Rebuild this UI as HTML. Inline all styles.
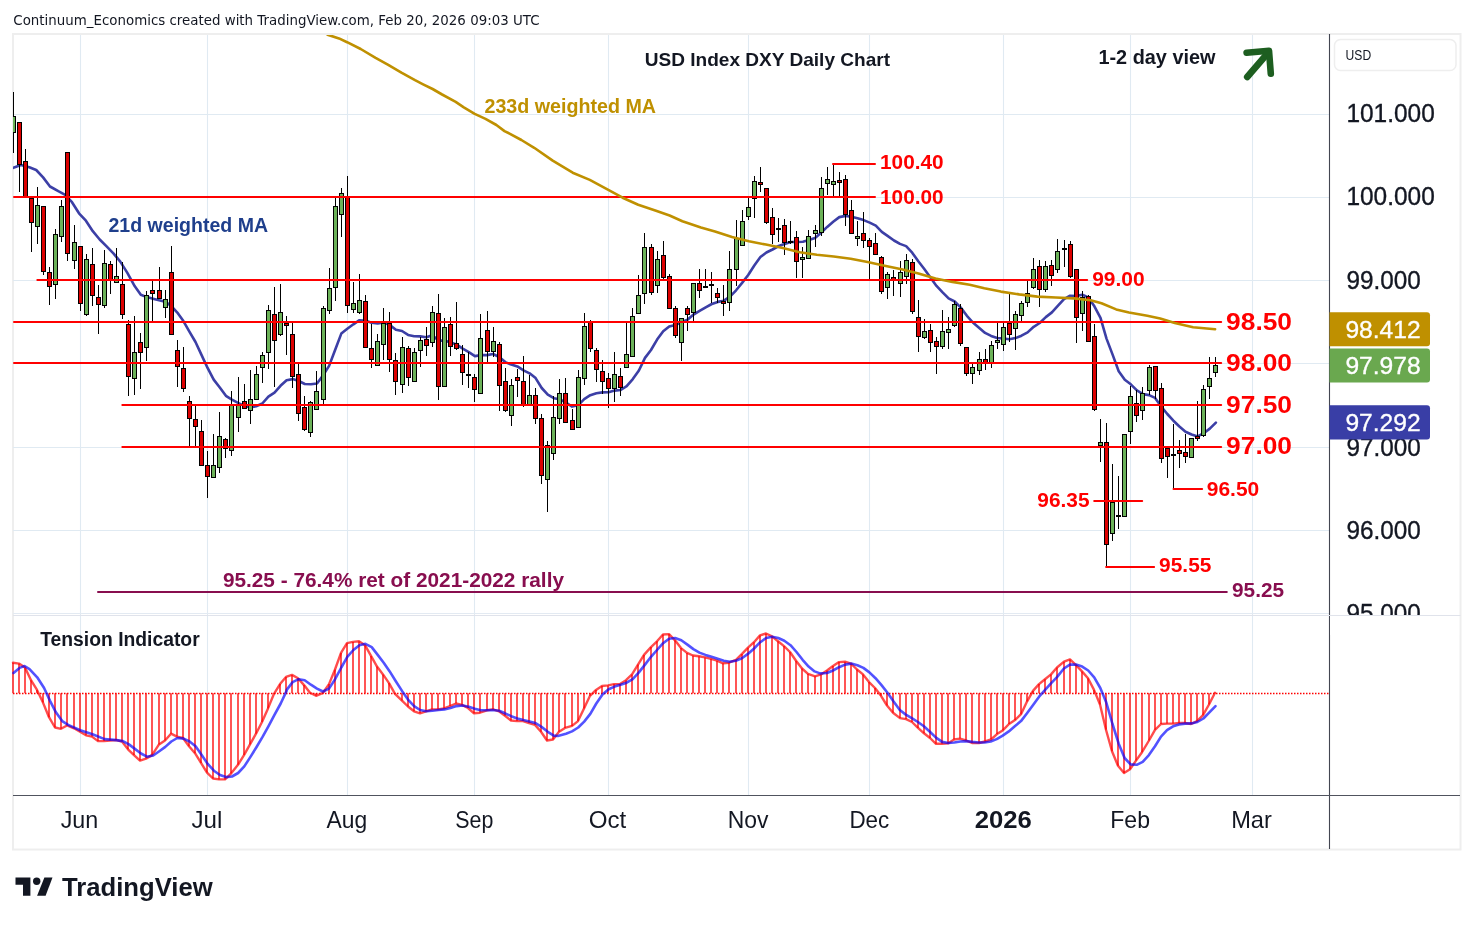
<!DOCTYPE html>
<html><head><meta charset="utf-8"><title>USD Index DXY Daily Chart</title>
<style>html,body{margin:0;padding:0;background:#fff;}body{width:1474px;height:925px;overflow:hidden;}svg{display:block;will-change:transform;}</style>
</head><body>
<svg width="1474" height="925" viewBox="0 0 1474 925"><rect x="0" y="0" width="1474" height="925" fill="#ffffff"/>
<rect x="13" y="34" width="1447.5" height="815.5" fill="none" stroke="#eeeeee" stroke-width="2"/>
<line x1="80.5" y1="35" x2="80.5" y2="795" stroke="#e0eaf2" stroke-width="1.1"/>
<line x1="207.5" y1="35" x2="207.5" y2="795" stroke="#e0eaf2" stroke-width="1.1"/>
<line x1="347.5" y1="35" x2="347.5" y2="795" stroke="#e0eaf2" stroke-width="1.1"/>
<line x1="474.5" y1="35" x2="474.5" y2="795" stroke="#e0eaf2" stroke-width="1.1"/>
<line x1="608.5" y1="35" x2="608.5" y2="795" stroke="#e0eaf2" stroke-width="1.1"/>
<line x1="748.5" y1="35" x2="748.5" y2="795" stroke="#e0eaf2" stroke-width="1.1"/>
<line x1="869.5" y1="35" x2="869.5" y2="795" stroke="#e0eaf2" stroke-width="1.1"/>
<line x1="1003.5" y1="35" x2="1003.5" y2="795" stroke="#e0eaf2" stroke-width="1.1"/>
<line x1="1130.5" y1="35" x2="1130.5" y2="795" stroke="#e0eaf2" stroke-width="1.1"/>
<line x1="1252.5" y1="35" x2="1252.5" y2="795" stroke="#e0eaf2" stroke-width="1.1"/>
<line x1="13" y1="114.5" x2="1329" y2="114.5" stroke="#e0eaf2" stroke-width="1.1"/>
<line x1="13" y1="197.5" x2="1329" y2="197.5" stroke="#e0eaf2" stroke-width="1.1"/>
<line x1="13" y1="280.5" x2="1329" y2="280.5" stroke="#e0eaf2" stroke-width="1.1"/>
<line x1="13" y1="363.5" x2="1329" y2="363.5" stroke="#e0eaf2" stroke-width="1.1"/>
<line x1="13" y1="447.5" x2="1329" y2="447.5" stroke="#e0eaf2" stroke-width="1.1"/>
<line x1="13" y1="530.5" x2="1329" y2="530.5" stroke="#e0eaf2" stroke-width="1.1"/>
<line x1="13" y1="613.5" x2="1329" y2="613.5" stroke="#e3eaf2" stroke-width="1"/>
<clipPath id="mainclip"><rect x="13" y="35" width="1316" height="578"/></clipPath>
<g clip-path="url(#mainclip)">
<polyline points="13.3,167.8 21.0,165.0 29.3,167.2 36.2,170.0 43.1,177.4 50.0,186.5 58.3,191.2 65.2,194.8 72.0,202.2 79.0,213.3 85.9,220.7 92.8,231.2 99.7,239.5 106.6,246.4 113.4,253.3 120.3,261.6 127.2,272.6 134.8,286.3 140.8,294.8 146.9,297.1 153.0,298.7 159.1,300.3 165.1,301.7 171.2,305.8 177.3,312.6 183.4,321.1 189.4,331.6 195.5,342.0 201.6,355.1 207.7,368.2 213.7,379.6 219.8,387.5 225.9,395.8 231.9,399.6 238.0,402.8 244.1,405.8 250.2,407.3 256.2,406.3 262.3,403.5 268.4,396.6 274.5,392.6 280.5,385.8 286.6,380.2 292.7,379.1 298.8,381.0 304.8,384.0 310.9,384.3 317.0,383.5 323.1,375.4 329.1,365.9 335.2,349.8 341.3,333.6 347.3,328.8 353.4,324.3 359.5,320.2 365.6,320.8 371.6,322.8 377.7,323.4 383.8,322.5 389.9,325.1 395.9,329.7 402.0,331.0 408.1,334.9 414.2,336.2 420.2,336.4 426.3,337.2 432.4,335.2 438.5,340.6 444.5,340.6 450.6,342.6 456.7,344.6 462.7,348.6 468.8,352.1 474.9,356.1 481.0,355.1 487.0,355.1 493.1,354.0 499.2,357.0 505.3,362.1 511.3,364.6 517.4,366.4 523.5,370.3 529.6,373.3 535.6,378.1 541.7,388.0 547.8,394.6 553.9,398.2 559.9,399.3 566.0,402.7 572.1,406.6 578.1,405.3 584.2,399.2 590.3,395.2 596.4,393.3 602.4,392.4 608.5,392.2 614.6,390.6 620.7,390.0 626.7,386.2 632.8,379.1 638.9,370.5 645.0,357.9 651.0,350.0 657.1,339.6 663.2,331.3 669.2,326.6 675.3,325.0 681.4,322.3 687.5,319.7 693.5,314.6 699.6,310.8 705.7,307.3 711.8,304.0 717.8,301.9 723.9,300.7 730.0,296.6 736.1,290.3 742.1,282.9 748.2,275.0 754.3,265.5 760.4,257.0 766.4,252.5 772.5,249.5 778.6,246.0 784.6,244.0 790.7,242.0 796.8,242.0 802.9,241.8 808.9,240.1 815.0,238.1 821.1,232.7 827.2,226.9 833.2,221.8 839.3,217.1 845.4,215.9 851.5,216.8 857.5,218.2 863.6,220.1 869.7,222.6 875.8,225.6 881.8,231.9 887.9,236.1 894.0,240.5 900.0,243.9 906.1,246.1 912.2,252.7 918.3,261.3 924.3,269.0 930.4,277.4 936.5,285.9 942.6,292.4 948.6,298.4 954.7,301.5 960.8,307.6 966.9,315.8 972.9,322.5 979.0,327.8 985.1,332.9 991.1,335.9 997.2,338.0 1003.3,338.5 1009.4,339.3 1015.4,338.1 1021.5,335.7 1027.6,332.4 1033.7,326.8 1039.7,323.0 1045.8,317.1 1051.9,312.4 1058.0,305.7 1064.0,299.2 1070.1,295.7 1076.2,296.0 1082.3,294.7 1088.3,297.4 1094.4,306.3 1100.5,317.9 1106.5,338.6 1112.6,354.6 1118.7,371.2 1124.8,379.7 1130.8,384.3 1136.9,390.4 1143.0,394.1 1149.1,395.1 1155.1,397.9 1161.2,406.5 1167.3,414.0 1173.4,420.7 1179.4,426.5 1185.5,431.7 1191.6,434.5 1197.7,436.4 1203.7,433.2 1209.8,428.6 1215.9,422.6" fill="none" stroke="#3c3fa6" stroke-width="2.6" stroke-linejoin="round" stroke-linecap="round" />
<line x1="13.50" y1="92" x2="13.50" y2="153" stroke="#000" stroke-width="1"/>
<rect x="11.50" y="116.5" width="4" height="16.0" fill="#6cb259" stroke="#000" stroke-width="1"/>
<line x1="19.50" y1="122" x2="19.50" y2="192" stroke="#000" stroke-width="1"/>
<rect x="17.50" y="122.5" width="4" height="42.0" fill="#dc0000" stroke="#000" stroke-width="1"/>
<line x1="25.50" y1="149" x2="25.50" y2="197" stroke="#000" stroke-width="1"/>
<rect x="23.50" y="161.5" width="4" height="35.0" fill="#dc0000" stroke="#000" stroke-width="1"/>
<line x1="31.50" y1="198" x2="31.50" y2="252" stroke="#000" stroke-width="1"/>
<rect x="29.50" y="198.5" width="4" height="24.0" fill="#dc0000" stroke="#000" stroke-width="1"/>
<line x1="37.50" y1="187" x2="37.50" y2="244" stroke="#000" stroke-width="1"/>
<rect x="35.50" y="205.5" width="4" height="21.0" fill="#6cb259" stroke="#000" stroke-width="1"/>
<line x1="43.50" y1="207" x2="43.50" y2="275" stroke="#000" stroke-width="1"/>
<rect x="41.50" y="206.5" width="4" height="65.0" fill="#dc0000" stroke="#000" stroke-width="1"/>
<line x1="49.50" y1="267" x2="49.50" y2="305" stroke="#000" stroke-width="1"/>
<rect x="47.50" y="272.5" width="4" height="14.0" fill="#dc0000" stroke="#000" stroke-width="1"/>
<line x1="55.50" y1="229" x2="55.50" y2="299" stroke="#000" stroke-width="1"/>
<rect x="53.50" y="234.5" width="4" height="50.0" fill="#6cb259" stroke="#000" stroke-width="1"/>
<line x1="61.50" y1="200" x2="61.50" y2="242" stroke="#000" stroke-width="1"/>
<rect x="59.50" y="206.5" width="4" height="30.0" fill="#6cb259" stroke="#000" stroke-width="1"/>
<line x1="67.50" y1="152" x2="67.50" y2="261" stroke="#000" stroke-width="1"/>
<rect x="65.50" y="152.5" width="4" height="101.0" fill="#dc0000" stroke="#000" stroke-width="1"/>
<line x1="74.50" y1="225" x2="74.50" y2="269" stroke="#000" stroke-width="1"/>
<rect x="72.50" y="242.5" width="4" height="18.0" fill="#6cb259" stroke="#000" stroke-width="1"/>
<line x1="80.50" y1="246" x2="80.50" y2="311" stroke="#000" stroke-width="1"/>
<rect x="78.50" y="246.5" width="4" height="57.0" fill="#dc0000" stroke="#000" stroke-width="1"/>
<line x1="86.50" y1="254" x2="86.50" y2="316" stroke="#000" stroke-width="1"/>
<rect x="84.50" y="259.5" width="4" height="55.0" fill="#6cb259" stroke="#000" stroke-width="1"/>
<line x1="92.50" y1="248" x2="92.50" y2="306" stroke="#000" stroke-width="1"/>
<rect x="90.50" y="264.5" width="4" height="31.0" fill="#dc0000" stroke="#000" stroke-width="1"/>
<line x1="98.50" y1="285" x2="98.50" y2="334" stroke="#000" stroke-width="1"/>
<rect x="96.50" y="297.5" width="4" height="7.0" fill="#dc0000" stroke="#000" stroke-width="1"/>
<line x1="104.50" y1="250" x2="104.50" y2="308" stroke="#000" stroke-width="1"/>
<rect x="102.50" y="263.5" width="4" height="42.0" fill="#6cb259" stroke="#000" stroke-width="1"/>
<line x1="110.50" y1="261" x2="110.50" y2="294" stroke="#000" stroke-width="1"/>
<rect x="108.50" y="264.5" width="4" height="16.0" fill="#dc0000" stroke="#000" stroke-width="1"/>
<line x1="116.50" y1="248" x2="116.50" y2="283" stroke="#000" stroke-width="1"/>
<rect x="114.50" y="276.5" width="4" height="6.0" fill="#6cb259" stroke="#000" stroke-width="1"/>
<line x1="122.50" y1="262" x2="122.50" y2="319" stroke="#000" stroke-width="1"/>
<rect x="120.50" y="284.5" width="4" height="30.0" fill="#dc0000" stroke="#000" stroke-width="1"/>
<line x1="128.50" y1="320" x2="128.50" y2="396" stroke="#000" stroke-width="1"/>
<rect x="126.50" y="324.5" width="4" height="52.0" fill="#dc0000" stroke="#000" stroke-width="1"/>
<line x1="134.50" y1="316" x2="134.50" y2="395" stroke="#000" stroke-width="1"/>
<rect x="132.50" y="352.5" width="4" height="26.0" fill="#6cb259" stroke="#000" stroke-width="1"/>
<line x1="140.50" y1="333" x2="140.50" y2="389" stroke="#000" stroke-width="1"/>
<rect x="138.50" y="342.5" width="4" height="10.0" fill="#dc0000" stroke="#000" stroke-width="1"/>
<line x1="146.50" y1="291" x2="146.50" y2="361" stroke="#000" stroke-width="1"/>
<rect x="144.50" y="295.5" width="4" height="52.0" fill="#6cb259" stroke="#000" stroke-width="1"/>
<line x1="152.50" y1="281" x2="152.50" y2="321" stroke="#000" stroke-width="1"/>
<rect x="150.50" y="290.5" width="4" height="3.0" fill="#dc0000" stroke="#000" stroke-width="1"/>
<line x1="159.50" y1="267" x2="159.50" y2="299" stroke="#000" stroke-width="1"/>
<rect x="157.50" y="290.5" width="4" height="8.0" fill="#dc0000" stroke="#000" stroke-width="1"/>
<line x1="165.50" y1="290" x2="165.50" y2="318" stroke="#000" stroke-width="1"/>
<rect x="163.50" y="299.5" width="4" height="8.0" fill="#6cb259" stroke="#000" stroke-width="1"/>
<line x1="171.50" y1="246" x2="171.50" y2="334" stroke="#000" stroke-width="1"/>
<rect x="169.50" y="272.5" width="4" height="62.0" fill="#dc0000" stroke="#000" stroke-width="1"/>
<line x1="177.50" y1="340" x2="177.50" y2="387" stroke="#000" stroke-width="1"/>
<rect x="175.50" y="350.5" width="4" height="16.0" fill="#dc0000" stroke="#000" stroke-width="1"/>
<line x1="183.50" y1="347" x2="183.50" y2="392" stroke="#000" stroke-width="1"/>
<rect x="181.50" y="368.5" width="4" height="20.0" fill="#dc0000" stroke="#000" stroke-width="1"/>
<line x1="189.50" y1="396" x2="189.50" y2="446" stroke="#000" stroke-width="1"/>
<rect x="187.50" y="401.5" width="4" height="17.0" fill="#dc0000" stroke="#000" stroke-width="1"/>
<line x1="195.50" y1="406" x2="195.50" y2="446" stroke="#000" stroke-width="1"/>
<rect x="193.50" y="419.5" width="4" height="7.0" fill="#dc0000" stroke="#000" stroke-width="1"/>
<line x1="201.50" y1="420" x2="201.50" y2="466" stroke="#000" stroke-width="1"/>
<rect x="199.50" y="431.5" width="4" height="34.0" fill="#dc0000" stroke="#000" stroke-width="1"/>
<line x1="207.50" y1="451" x2="207.50" y2="498" stroke="#000" stroke-width="1"/>
<rect x="205.50" y="465.5" width="4" height="11.0" fill="#dc0000" stroke="#000" stroke-width="1"/>
<line x1="213.50" y1="434" x2="213.50" y2="478" stroke="#000" stroke-width="1"/>
<rect x="211.50" y="465.5" width="4" height="12.0" fill="#6cb259" stroke="#000" stroke-width="1"/>
<line x1="219.50" y1="412" x2="219.50" y2="473" stroke="#000" stroke-width="1"/>
<rect x="217.50" y="436.5" width="4" height="31.0" fill="#6cb259" stroke="#000" stroke-width="1"/>
<line x1="225.50" y1="438" x2="225.50" y2="458" stroke="#000" stroke-width="1"/>
<rect x="223.50" y="439.5" width="4" height="9.0" fill="#dc0000" stroke="#000" stroke-width="1"/>
<line x1="231.50" y1="391" x2="231.50" y2="456" stroke="#000" stroke-width="1"/>
<rect x="229.50" y="404.5" width="4" height="46.0" fill="#6cb259" stroke="#000" stroke-width="1"/>
<line x1="238.50" y1="377" x2="238.50" y2="432" stroke="#000" stroke-width="1"/>
<rect x="236.50" y="405.5" width="4" height="12.0" fill="#6cb259" stroke="#000" stroke-width="1"/>
<line x1="244.50" y1="384" x2="244.50" y2="409" stroke="#000" stroke-width="1"/>
<rect x="242.50" y="401.5" width="4" height="7.0" fill="#dc0000" stroke="#000" stroke-width="1"/>
<line x1="250.50" y1="370" x2="250.50" y2="424" stroke="#000" stroke-width="1"/>
<rect x="248.50" y="399.5" width="4" height="11.0" fill="#6cb259" stroke="#000" stroke-width="1"/>
<line x1="256.50" y1="366" x2="256.50" y2="400" stroke="#000" stroke-width="1"/>
<rect x="254.50" y="374.5" width="4" height="25.0" fill="#6cb259" stroke="#000" stroke-width="1"/>
<line x1="262.50" y1="352" x2="262.50" y2="383" stroke="#000" stroke-width="1"/>
<rect x="260.50" y="355.5" width="4" height="12.0" fill="#6cb259" stroke="#000" stroke-width="1"/>
<line x1="268.50" y1="305" x2="268.50" y2="369" stroke="#000" stroke-width="1"/>
<rect x="266.50" y="310.5" width="4" height="42.0" fill="#6cb259" stroke="#000" stroke-width="1"/>
<line x1="274.50" y1="287" x2="274.50" y2="387" stroke="#000" stroke-width="1"/>
<rect x="272.50" y="314.5" width="4" height="26.0" fill="#dc0000" stroke="#000" stroke-width="1"/>
<line x1="280.50" y1="284" x2="280.50" y2="336" stroke="#000" stroke-width="1"/>
<rect x="278.50" y="312.5" width="4" height="22.0" fill="#6cb259" stroke="#000" stroke-width="1"/>
<line x1="286.50" y1="316" x2="286.50" y2="355" stroke="#000" stroke-width="1"/>
<rect x="284.50" y="323.5" width="4" height="2.0" fill="#dc0000" stroke="#000" stroke-width="1"/>
<line x1="292.50" y1="323" x2="292.50" y2="388" stroke="#000" stroke-width="1"/>
<rect x="290.50" y="334.5" width="4" height="42.0" fill="#dc0000" stroke="#000" stroke-width="1"/>
<line x1="298.50" y1="364" x2="298.50" y2="421" stroke="#000" stroke-width="1"/>
<rect x="296.50" y="374.5" width="4" height="39.0" fill="#dc0000" stroke="#000" stroke-width="1"/>
<line x1="304.50" y1="396" x2="304.50" y2="431" stroke="#000" stroke-width="1"/>
<rect x="302.50" y="407.5" width="4" height="22.0" fill="#dc0000" stroke="#000" stroke-width="1"/>
<line x1="310.50" y1="401" x2="310.50" y2="437" stroke="#000" stroke-width="1"/>
<rect x="308.50" y="402.5" width="4" height="30.0" fill="#6cb259" stroke="#000" stroke-width="1"/>
<line x1="316.50" y1="371" x2="316.50" y2="410" stroke="#000" stroke-width="1"/>
<rect x="314.50" y="391.5" width="4" height="18.0" fill="#6cb259" stroke="#000" stroke-width="1"/>
<line x1="323.50" y1="306" x2="323.50" y2="404" stroke="#000" stroke-width="1"/>
<rect x="321.50" y="308.5" width="4" height="91.0" fill="#6cb259" stroke="#000" stroke-width="1"/>
<line x1="329.50" y1="268" x2="329.50" y2="314" stroke="#000" stroke-width="1"/>
<rect x="327.50" y="288.5" width="4" height="22.0" fill="#6cb259" stroke="#000" stroke-width="1"/>
<line x1="335.50" y1="198" x2="335.50" y2="301" stroke="#000" stroke-width="1"/>
<rect x="333.50" y="206.5" width="4" height="81.0" fill="#6cb259" stroke="#000" stroke-width="1"/>
<line x1="341.50" y1="188" x2="341.50" y2="237" stroke="#000" stroke-width="1"/>
<rect x="339.50" y="193.5" width="4" height="21.0" fill="#6cb259" stroke="#000" stroke-width="1"/>
<line x1="347.50" y1="176" x2="347.50" y2="313" stroke="#000" stroke-width="1"/>
<rect x="345.50" y="196.5" width="4" height="109.0" fill="#dc0000" stroke="#000" stroke-width="1"/>
<line x1="353.50" y1="282" x2="353.50" y2="313" stroke="#000" stroke-width="1"/>
<rect x="351.50" y="303.5" width="4" height="6.0" fill="#6cb259" stroke="#000" stroke-width="1"/>
<line x1="359.50" y1="274" x2="359.50" y2="314" stroke="#000" stroke-width="1"/>
<rect x="357.50" y="300.5" width="4" height="12.0" fill="#6cb259" stroke="#000" stroke-width="1"/>
<line x1="365.50" y1="295" x2="365.50" y2="347" stroke="#000" stroke-width="1"/>
<rect x="363.50" y="301.5" width="4" height="46.0" fill="#dc0000" stroke="#000" stroke-width="1"/>
<line x1="371.50" y1="324" x2="371.50" y2="368" stroke="#000" stroke-width="1"/>
<rect x="369.50" y="348.5" width="4" height="11.0" fill="#dc0000" stroke="#000" stroke-width="1"/>
<line x1="377.50" y1="334" x2="377.50" y2="366" stroke="#000" stroke-width="1"/>
<rect x="375.50" y="341.5" width="4" height="24.0" fill="#6cb259" stroke="#000" stroke-width="1"/>
<line x1="383.50" y1="308" x2="383.50" y2="360" stroke="#000" stroke-width="1"/>
<rect x="381.50" y="323.5" width="4" height="21.0" fill="#6cb259" stroke="#000" stroke-width="1"/>
<line x1="389.50" y1="312" x2="389.50" y2="372" stroke="#000" stroke-width="1"/>
<rect x="387.50" y="323.5" width="4" height="36.0" fill="#dc0000" stroke="#000" stroke-width="1"/>
<line x1="395.50" y1="353" x2="395.50" y2="395" stroke="#000" stroke-width="1"/>
<rect x="393.50" y="360.5" width="4" height="21.0" fill="#dc0000" stroke="#000" stroke-width="1"/>
<line x1="402.50" y1="337" x2="402.50" y2="393" stroke="#000" stroke-width="1"/>
<rect x="400.50" y="347.5" width="4" height="37.0" fill="#6cb259" stroke="#000" stroke-width="1"/>
<line x1="408.50" y1="346" x2="408.50" y2="386" stroke="#000" stroke-width="1"/>
<rect x="406.50" y="348.5" width="4" height="29.0" fill="#dc0000" stroke="#000" stroke-width="1"/>
<line x1="414.50" y1="348" x2="414.50" y2="382" stroke="#000" stroke-width="1"/>
<rect x="412.50" y="352.5" width="4" height="29.0" fill="#6cb259" stroke="#000" stroke-width="1"/>
<line x1="420.50" y1="337" x2="420.50" y2="367" stroke="#000" stroke-width="1"/>
<rect x="418.50" y="340.5" width="4" height="10.0" fill="#6cb259" stroke="#000" stroke-width="1"/>
<line x1="426.50" y1="327" x2="426.50" y2="356" stroke="#000" stroke-width="1"/>
<rect x="424.50" y="339.5" width="4" height="6.0" fill="#dc0000" stroke="#000" stroke-width="1"/>
<line x1="432.50" y1="306" x2="432.50" y2="347" stroke="#000" stroke-width="1"/>
<rect x="430.50" y="312.5" width="4" height="30.0" fill="#6cb259" stroke="#000" stroke-width="1"/>
<line x1="438.50" y1="294" x2="438.50" y2="400" stroke="#000" stroke-width="1"/>
<rect x="436.50" y="313.5" width="4" height="73.0" fill="#dc0000" stroke="#000" stroke-width="1"/>
<line x1="444.50" y1="318" x2="444.50" y2="387" stroke="#000" stroke-width="1"/>
<rect x="442.50" y="327.5" width="4" height="59.0" fill="#6cb259" stroke="#000" stroke-width="1"/>
<line x1="450.50" y1="317" x2="450.50" y2="356" stroke="#000" stroke-width="1"/>
<rect x="448.50" y="324.5" width="4" height="22.0" fill="#dc0000" stroke="#000" stroke-width="1"/>
<line x1="456.50" y1="302" x2="456.50" y2="350" stroke="#000" stroke-width="1"/>
<rect x="454.50" y="343.5" width="4" height="5.0" fill="#dc0000" stroke="#000" stroke-width="1"/>
<line x1="462.50" y1="345" x2="462.50" y2="385" stroke="#000" stroke-width="1"/>
<rect x="460.50" y="354.5" width="4" height="18.0" fill="#dc0000" stroke="#000" stroke-width="1"/>
<line x1="468.50" y1="352" x2="468.50" y2="388" stroke="#000" stroke-width="1"/>
<rect x="466.50" y="374.5" width="4" height="1.0" fill="#dc0000" stroke="#000" stroke-width="1"/>
<line x1="474.50" y1="374" x2="474.50" y2="402" stroke="#000" stroke-width="1"/>
<rect x="472.50" y="377.5" width="4" height="12.0" fill="#dc0000" stroke="#000" stroke-width="1"/>
<line x1="480.50" y1="314" x2="480.50" y2="394" stroke="#000" stroke-width="1"/>
<rect x="478.50" y="338.5" width="4" height="55.0" fill="#6cb259" stroke="#000" stroke-width="1"/>
<line x1="487.50" y1="311" x2="487.50" y2="362" stroke="#000" stroke-width="1"/>
<rect x="485.50" y="330.5" width="4" height="21.0" fill="#dc0000" stroke="#000" stroke-width="1"/>
<line x1="493.50" y1="327" x2="493.50" y2="357" stroke="#000" stroke-width="1"/>
<rect x="491.50" y="341.5" width="4" height="10.0" fill="#6cb259" stroke="#000" stroke-width="1"/>
<line x1="499.50" y1="342" x2="499.50" y2="411" stroke="#000" stroke-width="1"/>
<rect x="497.50" y="344.5" width="4" height="41.0" fill="#dc0000" stroke="#000" stroke-width="1"/>
<line x1="505.50" y1="368" x2="505.50" y2="412" stroke="#000" stroke-width="1"/>
<rect x="503.50" y="381.5" width="4" height="29.0" fill="#dc0000" stroke="#000" stroke-width="1"/>
<line x1="511.50" y1="379" x2="511.50" y2="426" stroke="#000" stroke-width="1"/>
<rect x="509.50" y="385.5" width="4" height="30.0" fill="#6cb259" stroke="#000" stroke-width="1"/>
<line x1="517.50" y1="369" x2="517.50" y2="397" stroke="#000" stroke-width="1"/>
<rect x="515.50" y="377.5" width="4" height="3.0" fill="#dc0000" stroke="#000" stroke-width="1"/>
<line x1="523.50" y1="356" x2="523.50" y2="407" stroke="#000" stroke-width="1"/>
<rect x="521.50" y="381.5" width="4" height="23.0" fill="#dc0000" stroke="#000" stroke-width="1"/>
<line x1="529.50" y1="375" x2="529.50" y2="404" stroke="#000" stroke-width="1"/>
<rect x="527.50" y="395.5" width="4" height="9.0" fill="#6cb259" stroke="#000" stroke-width="1"/>
<line x1="535.50" y1="388" x2="535.50" y2="424" stroke="#000" stroke-width="1"/>
<rect x="533.50" y="395.5" width="4" height="23.0" fill="#dc0000" stroke="#000" stroke-width="1"/>
<line x1="541.50" y1="414" x2="541.50" y2="484" stroke="#000" stroke-width="1"/>
<rect x="539.50" y="418.5" width="4" height="57.0" fill="#dc0000" stroke="#000" stroke-width="1"/>
<line x1="547.50" y1="441" x2="547.50" y2="512" stroke="#000" stroke-width="1"/>
<rect x="545.50" y="445.5" width="4" height="34.0" fill="#6cb259" stroke="#000" stroke-width="1"/>
<line x1="553.50" y1="396" x2="553.50" y2="460" stroke="#000" stroke-width="1"/>
<rect x="551.50" y="417.5" width="4" height="36.0" fill="#6cb259" stroke="#000" stroke-width="1"/>
<line x1="559.50" y1="379" x2="559.50" y2="424" stroke="#000" stroke-width="1"/>
<rect x="557.50" y="393.5" width="4" height="25.0" fill="#6cb259" stroke="#000" stroke-width="1"/>
<line x1="565.50" y1="378" x2="565.50" y2="423" stroke="#000" stroke-width="1"/>
<rect x="563.50" y="393.5" width="4" height="29.0" fill="#dc0000" stroke="#000" stroke-width="1"/>
<line x1="572.50" y1="409" x2="572.50" y2="430" stroke="#000" stroke-width="1"/>
<rect x="570.50" y="420.5" width="4" height="9.0" fill="#dc0000" stroke="#000" stroke-width="1"/>
<line x1="578.50" y1="370" x2="578.50" y2="428" stroke="#000" stroke-width="1"/>
<rect x="576.50" y="377.5" width="4" height="50.0" fill="#6cb259" stroke="#000" stroke-width="1"/>
<line x1="584.50" y1="313" x2="584.50" y2="385" stroke="#000" stroke-width="1"/>
<rect x="582.50" y="326.5" width="4" height="52.0" fill="#6cb259" stroke="#000" stroke-width="1"/>
<line x1="590.50" y1="320" x2="590.50" y2="352" stroke="#000" stroke-width="1"/>
<rect x="588.50" y="322.5" width="4" height="26.0" fill="#dc0000" stroke="#000" stroke-width="1"/>
<line x1="596.50" y1="348" x2="596.50" y2="382" stroke="#000" stroke-width="1"/>
<rect x="594.50" y="350.5" width="4" height="19.0" fill="#dc0000" stroke="#000" stroke-width="1"/>
<line x1="602.50" y1="360" x2="602.50" y2="394" stroke="#000" stroke-width="1"/>
<rect x="600.50" y="371.5" width="4" height="10.0" fill="#dc0000" stroke="#000" stroke-width="1"/>
<line x1="608.50" y1="373" x2="608.50" y2="408" stroke="#000" stroke-width="1"/>
<rect x="606.50" y="378.5" width="4" height="10.0" fill="#dc0000" stroke="#000" stroke-width="1"/>
<line x1="614.50" y1="352" x2="614.50" y2="402" stroke="#000" stroke-width="1"/>
<rect x="612.50" y="374.5" width="4" height="14.0" fill="#6cb259" stroke="#000" stroke-width="1"/>
<line x1="620.50" y1="368" x2="620.50" y2="396" stroke="#000" stroke-width="1"/>
<rect x="618.50" y="376.5" width="4" height="11.0" fill="#dc0000" stroke="#000" stroke-width="1"/>
<line x1="626.50" y1="323" x2="626.50" y2="367" stroke="#000" stroke-width="1"/>
<rect x="624.50" y="354.5" width="4" height="13.0" fill="#6cb259" stroke="#000" stroke-width="1"/>
<line x1="632.50" y1="308" x2="632.50" y2="357" stroke="#000" stroke-width="1"/>
<rect x="630.50" y="316.5" width="4" height="40.0" fill="#6cb259" stroke="#000" stroke-width="1"/>
<line x1="638.50" y1="275" x2="638.50" y2="314" stroke="#000" stroke-width="1"/>
<rect x="636.50" y="295.5" width="4" height="18.0" fill="#6cb259" stroke="#000" stroke-width="1"/>
<line x1="644.50" y1="233" x2="644.50" y2="304" stroke="#000" stroke-width="1"/>
<rect x="642.50" y="247.5" width="4" height="46.0" fill="#6cb259" stroke="#000" stroke-width="1"/>
<line x1="651.50" y1="244" x2="651.50" y2="295" stroke="#000" stroke-width="1"/>
<rect x="649.50" y="247.5" width="4" height="45.0" fill="#dc0000" stroke="#000" stroke-width="1"/>
<line x1="657.50" y1="251" x2="657.50" y2="293" stroke="#000" stroke-width="1"/>
<rect x="655.50" y="259.5" width="4" height="26.0" fill="#6cb259" stroke="#000" stroke-width="1"/>
<line x1="663.50" y1="241" x2="663.50" y2="279" stroke="#000" stroke-width="1"/>
<rect x="661.50" y="255.5" width="4" height="22.0" fill="#dc0000" stroke="#000" stroke-width="1"/>
<line x1="669.50" y1="274" x2="669.50" y2="309" stroke="#000" stroke-width="1"/>
<rect x="667.50" y="276.5" width="4" height="32.0" fill="#dc0000" stroke="#000" stroke-width="1"/>
<line x1="675.50" y1="306" x2="675.50" y2="338" stroke="#000" stroke-width="1"/>
<rect x="673.50" y="308.5" width="4" height="27.0" fill="#dc0000" stroke="#000" stroke-width="1"/>
<line x1="681.50" y1="318" x2="681.50" y2="361" stroke="#000" stroke-width="1"/>
<rect x="679.50" y="318.5" width="4" height="24.0" fill="#6cb259" stroke="#000" stroke-width="1"/>
<line x1="687.50" y1="306" x2="687.50" y2="331" stroke="#000" stroke-width="1"/>
<rect x="685.50" y="308.5" width="4" height="6.0" fill="#dc0000" stroke="#000" stroke-width="1"/>
<line x1="693.50" y1="283" x2="693.50" y2="321" stroke="#000" stroke-width="1"/>
<rect x="691.50" y="283.5" width="4" height="29.0" fill="#6cb259" stroke="#000" stroke-width="1"/>
<line x1="699.50" y1="269" x2="699.50" y2="298" stroke="#000" stroke-width="1"/>
<rect x="697.50" y="283.5" width="4" height="7.0" fill="#dc0000" stroke="#000" stroke-width="1"/>
<line x1="705.50" y1="269" x2="705.50" y2="288" stroke="#000" stroke-width="1"/>
<rect x="703.50" y="286.5" width="4" height="1.0" fill="#dc0000" stroke="#000" stroke-width="1"/>
<line x1="711.50" y1="272" x2="711.50" y2="303" stroke="#000" stroke-width="1"/>
<rect x="709.50" y="284.5" width="4" height="1.0" fill="#6cb259" stroke="#000" stroke-width="1"/>
<line x1="717.50" y1="288" x2="717.50" y2="303" stroke="#000" stroke-width="1"/>
<rect x="715.50" y="293.5" width="4" height="4.0" fill="#dc0000" stroke="#000" stroke-width="1"/>
<line x1="723.50" y1="285" x2="723.50" y2="316" stroke="#000" stroke-width="1"/>
<rect x="721.50" y="301.5" width="4" height="2.0" fill="#dc0000" stroke="#000" stroke-width="1"/>
<line x1="729.50" y1="251" x2="729.50" y2="311" stroke="#000" stroke-width="1"/>
<rect x="727.50" y="269.5" width="4" height="33.0" fill="#6cb259" stroke="#000" stroke-width="1"/>
<line x1="736.50" y1="220" x2="736.50" y2="286" stroke="#000" stroke-width="1"/>
<rect x="734.50" y="238.5" width="4" height="31.0" fill="#6cb259" stroke="#000" stroke-width="1"/>
<line x1="742.50" y1="210" x2="742.50" y2="246" stroke="#000" stroke-width="1"/>
<rect x="740.50" y="221.5" width="4" height="24.0" fill="#6cb259" stroke="#000" stroke-width="1"/>
<line x1="748.50" y1="198" x2="748.50" y2="220" stroke="#000" stroke-width="1"/>
<rect x="746.50" y="207.5" width="4" height="9.0" fill="#6cb259" stroke="#000" stroke-width="1"/>
<line x1="754.50" y1="176" x2="754.50" y2="218" stroke="#000" stroke-width="1"/>
<rect x="752.50" y="181.5" width="4" height="17.0" fill="#6cb259" stroke="#000" stroke-width="1"/>
<line x1="760.50" y1="167" x2="760.50" y2="192" stroke="#000" stroke-width="1"/>
<rect x="758.50" y="182.5" width="4" height="2.0" fill="#dc0000" stroke="#000" stroke-width="1"/>
<line x1="766.50" y1="189" x2="766.50" y2="224" stroke="#000" stroke-width="1"/>
<rect x="764.50" y="188.5" width="4" height="34.0" fill="#dc0000" stroke="#000" stroke-width="1"/>
<line x1="772.50" y1="208" x2="772.50" y2="244" stroke="#000" stroke-width="1"/>
<rect x="770.50" y="217.5" width="4" height="17.0" fill="#dc0000" stroke="#000" stroke-width="1"/>
<line x1="778.50" y1="218" x2="778.50" y2="242" stroke="#000" stroke-width="1"/>
<rect x="776.50" y="228.5" width="4" height="1.0" fill="#dc0000" stroke="#000" stroke-width="1"/>
<line x1="784.50" y1="219" x2="784.50" y2="255" stroke="#000" stroke-width="1"/>
<rect x="782.50" y="225.5" width="4" height="17.0" fill="#dc0000" stroke="#000" stroke-width="1"/>
<line x1="790.50" y1="221" x2="790.50" y2="244" stroke="#000" stroke-width="1"/>
<rect x="788.50" y="241.5" width="4" height="1.0" fill="#dc0000" stroke="#000" stroke-width="1"/>
<line x1="796.50" y1="231" x2="796.50" y2="278" stroke="#000" stroke-width="1"/>
<rect x="794.50" y="237.5" width="4" height="24.0" fill="#dc0000" stroke="#000" stroke-width="1"/>
<line x1="802.50" y1="247" x2="802.50" y2="278" stroke="#000" stroke-width="1"/>
<rect x="800.50" y="257.5" width="4" height="2.0" fill="#6cb259" stroke="#000" stroke-width="1"/>
<line x1="808.50" y1="230" x2="808.50" y2="259" stroke="#000" stroke-width="1"/>
<rect x="806.50" y="236.5" width="4" height="22.0" fill="#6cb259" stroke="#000" stroke-width="1"/>
<line x1="815.50" y1="225" x2="815.50" y2="247" stroke="#000" stroke-width="1"/>
<rect x="813.50" y="230.5" width="4" height="3.0" fill="#6cb259" stroke="#000" stroke-width="1"/>
<line x1="821.50" y1="177" x2="821.50" y2="236" stroke="#000" stroke-width="1"/>
<rect x="819.50" y="188.5" width="4" height="44.0" fill="#6cb259" stroke="#000" stroke-width="1"/>
<line x1="827.50" y1="167" x2="827.50" y2="195" stroke="#000" stroke-width="1"/>
<rect x="825.50" y="179.5" width="4" height="4.0" fill="#6cb259" stroke="#000" stroke-width="1"/>
<line x1="833.50" y1="164" x2="833.50" y2="196" stroke="#000" stroke-width="1"/>
<rect x="831.50" y="181.5" width="4" height="3.0" fill="#6cb259" stroke="#000" stroke-width="1"/>
<line x1="839.50" y1="172" x2="839.50" y2="196" stroke="#000" stroke-width="1"/>
<rect x="837.50" y="180.5" width="4" height="2.0" fill="#dc0000" stroke="#000" stroke-width="1"/>
<line x1="845.50" y1="175" x2="845.50" y2="226" stroke="#000" stroke-width="1"/>
<rect x="843.50" y="179.5" width="4" height="35.0" fill="#dc0000" stroke="#000" stroke-width="1"/>
<line x1="851.50" y1="200" x2="851.50" y2="234" stroke="#000" stroke-width="1"/>
<rect x="849.50" y="210.5" width="4" height="23.0" fill="#dc0000" stroke="#000" stroke-width="1"/>
<line x1="857.50" y1="221" x2="857.50" y2="246" stroke="#000" stroke-width="1"/>
<rect x="855.50" y="236.5" width="4" height="2.0" fill="#6cb259" stroke="#000" stroke-width="1"/>
<line x1="863.50" y1="212" x2="863.50" y2="248" stroke="#000" stroke-width="1"/>
<rect x="861.50" y="233.5" width="4" height="7.0" fill="#dc0000" stroke="#000" stroke-width="1"/>
<line x1="869.50" y1="238" x2="869.50" y2="279" stroke="#000" stroke-width="1"/>
<rect x="867.50" y="240.5" width="4" height="6.0" fill="#dc0000" stroke="#000" stroke-width="1"/>
<line x1="875.50" y1="233" x2="875.50" y2="254" stroke="#000" stroke-width="1"/>
<rect x="873.50" y="243.5" width="4" height="11.0" fill="#dc0000" stroke="#000" stroke-width="1"/>
<line x1="881.50" y1="256" x2="881.50" y2="294" stroke="#000" stroke-width="1"/>
<rect x="879.50" y="257.5" width="4" height="34.0" fill="#dc0000" stroke="#000" stroke-width="1"/>
<line x1="887.50" y1="272" x2="887.50" y2="299" stroke="#000" stroke-width="1"/>
<rect x="885.50" y="274.5" width="4" height="13.0" fill="#6cb259" stroke="#000" stroke-width="1"/>
<line x1="893.50" y1="270" x2="893.50" y2="296" stroke="#000" stroke-width="1"/>
<rect x="891.50" y="277.5" width="4" height="3.0" fill="#dc0000" stroke="#000" stroke-width="1"/>
<line x1="900.50" y1="261" x2="900.50" y2="297" stroke="#000" stroke-width="1"/>
<rect x="898.50" y="272.5" width="4" height="11.0" fill="#6cb259" stroke="#000" stroke-width="1"/>
<line x1="906.50" y1="254" x2="906.50" y2="284" stroke="#000" stroke-width="1"/>
<rect x="904.50" y="260.5" width="4" height="16.0" fill="#6cb259" stroke="#000" stroke-width="1"/>
<line x1="912.50" y1="259" x2="912.50" y2="314" stroke="#000" stroke-width="1"/>
<rect x="910.50" y="262.5" width="4" height="49.0" fill="#dc0000" stroke="#000" stroke-width="1"/>
<line x1="918.50" y1="300" x2="918.50" y2="352" stroke="#000" stroke-width="1"/>
<rect x="916.50" y="317.5" width="4" height="19.0" fill="#dc0000" stroke="#000" stroke-width="1"/>
<line x1="924.50" y1="319" x2="924.50" y2="339" stroke="#000" stroke-width="1"/>
<rect x="922.50" y="331.5" width="4" height="6.0" fill="#6cb259" stroke="#000" stroke-width="1"/>
<line x1="930.50" y1="324" x2="930.50" y2="352" stroke="#000" stroke-width="1"/>
<rect x="928.50" y="330.5" width="4" height="12.0" fill="#dc0000" stroke="#000" stroke-width="1"/>
<line x1="936.50" y1="337" x2="936.50" y2="374" stroke="#000" stroke-width="1"/>
<rect x="934.50" y="341.5" width="4" height="5.0" fill="#dc0000" stroke="#000" stroke-width="1"/>
<line x1="942.50" y1="310" x2="942.50" y2="349" stroke="#000" stroke-width="1"/>
<rect x="940.50" y="331.5" width="4" height="15.0" fill="#6cb259" stroke="#000" stroke-width="1"/>
<line x1="948.50" y1="317" x2="948.50" y2="349" stroke="#000" stroke-width="1"/>
<rect x="946.50" y="329.5" width="4" height="3.0" fill="#6cb259" stroke="#000" stroke-width="1"/>
<line x1="954.50" y1="301" x2="954.50" y2="327" stroke="#000" stroke-width="1"/>
<rect x="952.50" y="304.5" width="4" height="21.0" fill="#6cb259" stroke="#000" stroke-width="1"/>
<line x1="960.50" y1="304" x2="960.50" y2="346" stroke="#000" stroke-width="1"/>
<rect x="958.50" y="308.5" width="4" height="35.0" fill="#dc0000" stroke="#000" stroke-width="1"/>
<line x1="966.50" y1="347" x2="966.50" y2="376" stroke="#000" stroke-width="1"/>
<rect x="964.50" y="347.5" width="4" height="26.0" fill="#dc0000" stroke="#000" stroke-width="1"/>
<line x1="972.50" y1="364" x2="972.50" y2="384" stroke="#000" stroke-width="1"/>
<rect x="970.50" y="367.5" width="4" height="6.0" fill="#6cb259" stroke="#000" stroke-width="1"/>
<line x1="979.50" y1="352" x2="979.50" y2="375" stroke="#000" stroke-width="1"/>
<rect x="977.50" y="359.5" width="4" height="11.0" fill="#6cb259" stroke="#000" stroke-width="1"/>
<line x1="985.50" y1="349" x2="985.50" y2="370" stroke="#000" stroke-width="1"/>
<rect x="983.50" y="359.5" width="4" height="3.0" fill="#dc0000" stroke="#000" stroke-width="1"/>
<line x1="991.50" y1="341" x2="991.50" y2="368" stroke="#000" stroke-width="1"/>
<rect x="989.50" y="345.5" width="4" height="17.0" fill="#6cb259" stroke="#000" stroke-width="1"/>
<line x1="997.50" y1="323" x2="997.50" y2="349" stroke="#000" stroke-width="1"/>
<rect x="995.50" y="340.5" width="4" height="2.0" fill="#6cb259" stroke="#000" stroke-width="1"/>
<line x1="1003.50" y1="323" x2="1003.50" y2="351" stroke="#000" stroke-width="1"/>
<rect x="1001.50" y="327.5" width="4" height="17.0" fill="#6cb259" stroke="#000" stroke-width="1"/>
<line x1="1009.50" y1="292" x2="1009.50" y2="342" stroke="#000" stroke-width="1"/>
<rect x="1007.50" y="323.5" width="4" height="11.0" fill="#dc0000" stroke="#000" stroke-width="1"/>
<line x1="1015.50" y1="311" x2="1015.50" y2="350" stroke="#000" stroke-width="1"/>
<rect x="1013.50" y="314.5" width="4" height="14.0" fill="#6cb259" stroke="#000" stroke-width="1"/>
<line x1="1021.50" y1="301" x2="1021.50" y2="321" stroke="#000" stroke-width="1"/>
<rect x="1019.50" y="303.5" width="4" height="12.0" fill="#6cb259" stroke="#000" stroke-width="1"/>
<line x1="1027.50" y1="281" x2="1027.50" y2="307" stroke="#000" stroke-width="1"/>
<rect x="1025.50" y="293.5" width="4" height="9.0" fill="#6cb259" stroke="#000" stroke-width="1"/>
<line x1="1033.50" y1="258" x2="1033.50" y2="289" stroke="#000" stroke-width="1"/>
<rect x="1031.50" y="269.5" width="4" height="18.0" fill="#6cb259" stroke="#000" stroke-width="1"/>
<line x1="1039.50" y1="260" x2="1039.50" y2="307" stroke="#000" stroke-width="1"/>
<rect x="1037.50" y="266.5" width="4" height="23.0" fill="#dc0000" stroke="#000" stroke-width="1"/>
<line x1="1045.50" y1="261" x2="1045.50" y2="292" stroke="#000" stroke-width="1"/>
<rect x="1043.50" y="266.5" width="4" height="23.0" fill="#6cb259" stroke="#000" stroke-width="1"/>
<line x1="1051.50" y1="260" x2="1051.50" y2="286" stroke="#000" stroke-width="1"/>
<rect x="1049.50" y="265.5" width="4" height="10.0" fill="#dc0000" stroke="#000" stroke-width="1"/>
<line x1="1057.50" y1="239" x2="1057.50" y2="273" stroke="#000" stroke-width="1"/>
<rect x="1055.50" y="251.5" width="4" height="18.0" fill="#6cb259" stroke="#000" stroke-width="1"/>
<line x1="1064.50" y1="240" x2="1064.50" y2="267" stroke="#000" stroke-width="1"/>
<rect x="1062.50" y="248.5" width="4" height="1.0" fill="#6cb259" stroke="#000" stroke-width="1"/>
<line x1="1070.50" y1="241" x2="1070.50" y2="278" stroke="#000" stroke-width="1"/>
<rect x="1068.50" y="244.5" width="4" height="32.0" fill="#dc0000" stroke="#000" stroke-width="1"/>
<line x1="1076.50" y1="270" x2="1076.50" y2="343" stroke="#000" stroke-width="1"/>
<rect x="1074.50" y="269.5" width="4" height="48.0" fill="#dc0000" stroke="#000" stroke-width="1"/>
<line x1="1082.50" y1="291" x2="1082.50" y2="331" stroke="#000" stroke-width="1"/>
<rect x="1080.50" y="297.5" width="4" height="16.0" fill="#6cb259" stroke="#000" stroke-width="1"/>
<line x1="1088.50" y1="295" x2="1088.50" y2="342" stroke="#000" stroke-width="1"/>
<rect x="1086.50" y="296.5" width="4" height="45.0" fill="#dc0000" stroke="#000" stroke-width="1"/>
<line x1="1094.50" y1="324" x2="1094.50" y2="411" stroke="#000" stroke-width="1"/>
<rect x="1092.50" y="336.5" width="4" height="73.0" fill="#dc0000" stroke="#000" stroke-width="1"/>
<line x1="1100.50" y1="419" x2="1100.50" y2="462" stroke="#000" stroke-width="1"/>
<rect x="1098.50" y="442.5" width="4" height="3.0" fill="#6cb259" stroke="#000" stroke-width="1"/>
<line x1="1106.50" y1="423" x2="1106.50" y2="566" stroke="#000" stroke-width="1"/>
<rect x="1104.50" y="442.5" width="4" height="102.0" fill="#dc0000" stroke="#000" stroke-width="1"/>
<line x1="1112.50" y1="464" x2="1112.50" y2="541" stroke="#000" stroke-width="1"/>
<rect x="1110.50" y="502.5" width="4" height="31.0" fill="#6cb259" stroke="#000" stroke-width="1"/>
<line x1="1118.50" y1="476" x2="1118.50" y2="529" stroke="#000" stroke-width="1"/>
<rect x="1116.50" y="515.5" width="4" height="1.0" fill="#6cb259" stroke="#000" stroke-width="1"/>
<line x1="1124.50" y1="434" x2="1124.50" y2="516" stroke="#000" stroke-width="1"/>
<rect x="1122.50" y="434.5" width="4" height="82.0" fill="#6cb259" stroke="#000" stroke-width="1"/>
<line x1="1130.50" y1="386" x2="1130.50" y2="444" stroke="#000" stroke-width="1"/>
<rect x="1128.50" y="396.5" width="4" height="35.0" fill="#6cb259" stroke="#000" stroke-width="1"/>
<line x1="1136.50" y1="390" x2="1136.50" y2="422" stroke="#000" stroke-width="1"/>
<rect x="1134.50" y="403.5" width="4" height="12.0" fill="#dc0000" stroke="#000" stroke-width="1"/>
<line x1="1142.50" y1="387" x2="1142.50" y2="420" stroke="#000" stroke-width="1"/>
<rect x="1140.50" y="393.5" width="4" height="17.0" fill="#6cb259" stroke="#000" stroke-width="1"/>
<line x1="1149.50" y1="365" x2="1149.50" y2="395" stroke="#000" stroke-width="1"/>
<rect x="1147.50" y="367.5" width="4" height="23.0" fill="#6cb259" stroke="#000" stroke-width="1"/>
<line x1="1155.50" y1="366" x2="1155.50" y2="399" stroke="#000" stroke-width="1"/>
<rect x="1153.50" y="366.5" width="4" height="24.0" fill="#dc0000" stroke="#000" stroke-width="1"/>
<line x1="1161.50" y1="383" x2="1161.50" y2="463" stroke="#000" stroke-width="1"/>
<rect x="1159.50" y="388.5" width="4" height="70.0" fill="#dc0000" stroke="#000" stroke-width="1"/>
<line x1="1167.50" y1="448" x2="1167.50" y2="478" stroke="#000" stroke-width="1"/>
<rect x="1165.50" y="448.5" width="4" height="8.0" fill="#dc0000" stroke="#000" stroke-width="1"/>
<line x1="1173.50" y1="424" x2="1173.50" y2="489" stroke="#000" stroke-width="1"/>
<rect x="1171.50" y="454.5" width="4" height="1.0" fill="#dc0000" stroke="#000" stroke-width="1"/>
<line x1="1179.50" y1="440" x2="1179.50" y2="468" stroke="#000" stroke-width="1"/>
<rect x="1177.50" y="450.5" width="4" height="3.0" fill="#dc0000" stroke="#000" stroke-width="1"/>
<line x1="1185.50" y1="434" x2="1185.50" y2="463" stroke="#000" stroke-width="1"/>
<rect x="1183.50" y="452.5" width="4" height="4.0" fill="#dc0000" stroke="#000" stroke-width="1"/>
<line x1="1191.50" y1="438" x2="1191.50" y2="458" stroke="#000" stroke-width="1"/>
<rect x="1189.50" y="438.5" width="4" height="19.0" fill="#6cb259" stroke="#000" stroke-width="1"/>
<line x1="1197.50" y1="401" x2="1197.50" y2="441" stroke="#000" stroke-width="1"/>
<rect x="1195.50" y="436.5" width="4" height="2.0" fill="#dc0000" stroke="#000" stroke-width="1"/>
<line x1="1203.50" y1="385" x2="1203.50" y2="437" stroke="#000" stroke-width="1"/>
<rect x="1201.50" y="389.5" width="4" height="46.0" fill="#6cb259" stroke="#000" stroke-width="1"/>
<line x1="1209.50" y1="357" x2="1209.50" y2="399" stroke="#000" stroke-width="1"/>
<rect x="1207.50" y="378.5" width="4" height="8.0" fill="#6cb259" stroke="#000" stroke-width="1"/>
<line x1="1215.50" y1="357" x2="1215.50" y2="377" stroke="#000" stroke-width="1"/>
<rect x="1213.50" y="365.5" width="4" height="7.0" fill="#6cb259" stroke="#000" stroke-width="1"/>
</g>
<g clip-path="url(#mainclip)">
<line x1="833.0" y1="164" x2="875.0" y2="164" stroke="#ff0000" stroke-width="2" stroke-linecap="round"/>
<line x1="14.0" y1="197" x2="875.0" y2="197" stroke="#ff0000" stroke-width="2" stroke-linecap="round"/>
<line x1="37.3" y1="280" x2="1087.2" y2="280" stroke="#ff0000" stroke-width="2" stroke-linecap="round"/>
<line x1="14.0" y1="322" x2="1221.2" y2="322" stroke="#ff0000" stroke-width="2" stroke-linecap="round"/>
<line x1="14.0" y1="363" x2="1221.2" y2="363" stroke="#ff0000" stroke-width="2" stroke-linecap="round"/>
<line x1="122.3" y1="405" x2="1221.2" y2="405" stroke="#ff0000" stroke-width="2" stroke-linecap="round"/>
<line x1="122.3" y1="447" x2="1221.2" y2="447" stroke="#ff0000" stroke-width="2" stroke-linecap="round"/>
<line x1="1094.2" y1="501" x2="1142.2" y2="501" stroke="#ff0000" stroke-width="2" stroke-linecap="round"/>
<line x1="1173.5" y1="489" x2="1202.1" y2="489" stroke="#ff0000" stroke-width="2" stroke-linecap="round"/>
<line x1="1106.1" y1="567" x2="1154.1" y2="567" stroke="#ff0000" stroke-width="2" stroke-linecap="round"/>
<line x1="98.0" y1="592" x2="1226.8" y2="592" stroke="#880e4f" stroke-width="2" stroke-linecap="round"/>
</g>
<g clip-path="url(#mainclip)">
<polyline points="327.5,34.7 339.0,38.4 347.1,42.2 360.7,49.0 375.6,57.8 387.8,64.6 401.4,72.7 415.0,80.2 423.1,84.3 432.6,89.0 442.1,94.5 455.7,101.9 463.8,107.3 474.7,113.9 485.5,118.9 496.4,125.0 504.5,131.1 510.0,133.8 521.4,140.0 534.2,147.8 552.7,160.6 572.7,172.7 589.8,179.9 608.3,189.8 622.6,197.7 638.2,204.8 655.3,210.5 669.6,215.5 682.4,221.2 700.9,227.6 715.0,231.5 732.0,237.0 748.9,241.2 765.9,244.6 782.8,248.0 799.8,252.2 816.8,254.8 833.7,256.5 850.7,258.7 867.6,262.1 884.6,265.8 901.6,269.2 918.5,273.4 935.5,278.5 952.4,281.9 969.7,284.7 984.3,288.3 1000.8,291.6 1019.1,294.4 1037.4,296.6 1055.8,297.5 1074.1,298.4 1090.6,300.2 1101.5,303.3 1116.2,309.4 1129.0,312.5 1147.3,315.8 1160.2,318.5 1174.8,323.1 1193.1,327.2 1215.1,329.2" fill="none" stroke="#bf9000" stroke-width="2.6" stroke-linejoin="round" stroke-linecap="round" />
</g>
<text x="880.0" y="168.9" font-family="'Liberation Sans', 'DejaVu Sans', sans-serif" font-size="19.7" font-weight="bold" fill="#ff0000" textLength="63.6" lengthAdjust="spacingAndGlyphs" >100.40</text>
<text x="880.0" y="203.9" font-family="'Liberation Sans', 'DejaVu Sans', sans-serif" font-size="19.7" font-weight="bold" fill="#ff0000" textLength="63.6" lengthAdjust="spacingAndGlyphs" >100.00</text>
<text x="1092.2" y="286.0" font-family="'Liberation Sans', 'DejaVu Sans', sans-serif" font-size="19.3" font-weight="bold" fill="#ff0000" textLength="52.4" lengthAdjust="spacingAndGlyphs" >99.00</text>
<text x="1226.1" y="329.6" font-family="'Liberation Sans', 'DejaVu Sans', sans-serif" font-size="23" font-weight="bold" fill="#ff0000" textLength="65.9" lengthAdjust="spacingAndGlyphs" >98.50</text>
<text x="1226.1" y="370.8" font-family="'Liberation Sans', 'DejaVu Sans', sans-serif" font-size="23" font-weight="bold" fill="#ff0000" textLength="65.9" lengthAdjust="spacingAndGlyphs" >98.00</text>
<text x="1226.1" y="413.2" font-family="'Liberation Sans', 'DejaVu Sans', sans-serif" font-size="23" font-weight="bold" fill="#ff0000" textLength="65.9" lengthAdjust="spacingAndGlyphs" >97.50</text>
<text x="1226.1" y="453.7" font-family="'Liberation Sans', 'DejaVu Sans', sans-serif" font-size="23" font-weight="bold" fill="#ff0000" textLength="65.9" lengthAdjust="spacingAndGlyphs" >97.00</text>
<text x="1037.3" y="507.1" font-family="'Liberation Sans', 'DejaVu Sans', sans-serif" font-size="19.3" font-weight="bold" fill="#ff0000" textLength="52.2" lengthAdjust="spacingAndGlyphs" >96.35</text>
<text x="1206.8" y="495.5" font-family="'Liberation Sans', 'DejaVu Sans', sans-serif" font-size="19.3" font-weight="bold" fill="#ff0000" textLength="52.5" lengthAdjust="spacingAndGlyphs" >96.50</text>
<text x="1159.1" y="571.5" font-family="'Liberation Sans', 'DejaVu Sans', sans-serif" font-size="19.3" font-weight="bold" fill="#ff0000" textLength="52.3" lengthAdjust="spacingAndGlyphs" >95.55</text>
<text x="1232.0" y="597.4" font-family="'Liberation Sans', 'DejaVu Sans', sans-serif" font-size="19.3" font-weight="bold" fill="#880e4f" textLength="52.1" lengthAdjust="spacingAndGlyphs" >95.25</text>
<text x="222.9" y="586.5" font-family="'Liberation Sans', 'DejaVu Sans', sans-serif" font-size="19.8" font-weight="bold" fill="#880e4f" textLength="341.1" lengthAdjust="spacingAndGlyphs" >95.25 - 76.4% ret of 2021-2022 rally</text>
<text x="484.5" y="112.8" font-family="'Liberation Sans', 'DejaVu Sans', sans-serif" font-size="19.3" font-weight="bold" fill="#bf9000" textLength="171.5" lengthAdjust="spacingAndGlyphs" >233d weighted MA</text>
<text x="108.5" y="232.0" font-family="'Liberation Sans', 'DejaVu Sans', sans-serif" font-size="19.8" font-weight="bold" fill="#1f3f8c" textLength="159.6" lengthAdjust="spacingAndGlyphs" >21d weighted MA</text>
<text x="644.7" y="65.6" font-family="'Liberation Sans', 'DejaVu Sans', sans-serif" font-size="18.5" font-weight="bold" fill="#131722" textLength="245.4" lengthAdjust="spacingAndGlyphs" >USD Index DXY Daily Chart</text>
<text x="1098.4" y="63.8" font-family="'Liberation Sans', 'DejaVu Sans', sans-serif" font-size="19.4" font-weight="bold" fill="#131722" textLength="117.1" lengthAdjust="spacingAndGlyphs" >1-2 day view</text>
<g stroke="#1d5e20" stroke-width="6.6" stroke-linecap="round" stroke-linejoin="round" fill="none"><line x1="1247.2" y1="77" x2="1267" y2="54"/><polyline points="1246.6,52.8 1269,50.8 1270.8,73.8"/></g>
<line x1="1329.5" y1="34" x2="1329.5" y2="849" stroke="#434651" stroke-width="1.1"/>
<rect x="1334.5" y="39.5" width="121.5" height="31" rx="6" fill="#fff" stroke="#eeeeee" stroke-width="1.5"/>
<text x="1345.6" y="59.8" font-family="'Liberation Sans', 'DejaVu Sans', sans-serif" font-size="14.5" font-weight="normal" fill="#131722" textLength="25.6" lengthAdjust="spacingAndGlyphs" >USD</text>
<text x="1346.4" y="121.9" font-family="'Liberation Sans', 'DejaVu Sans', sans-serif" font-size="25" font-weight="normal" fill="#131722" textLength="88.4" lengthAdjust="spacingAndGlyphs" stroke="#131722" stroke-width="0.35">101.000</text>
<text x="1346.4" y="205.3" font-family="'Liberation Sans', 'DejaVu Sans', sans-serif" font-size="25" font-weight="normal" fill="#131722" textLength="88.4" lengthAdjust="spacingAndGlyphs" stroke="#131722" stroke-width="0.35">100.000</text>
<text x="1346.4" y="288.7" font-family="'Liberation Sans', 'DejaVu Sans', sans-serif" font-size="25" font-weight="normal" fill="#131722" textLength="74.4" lengthAdjust="spacingAndGlyphs" stroke="#131722" stroke-width="0.35">99.000</text>
<text x="1346.4" y="455.5" font-family="'Liberation Sans', 'DejaVu Sans', sans-serif" font-size="25" font-weight="normal" fill="#131722" textLength="74.4" lengthAdjust="spacingAndGlyphs" stroke="#131722" stroke-width="0.35">97.000</text>
<text x="1346.4" y="538.9" font-family="'Liberation Sans', 'DejaVu Sans', sans-serif" font-size="25" font-weight="normal" fill="#131722" textLength="74.4" lengthAdjust="spacingAndGlyphs" stroke="#131722" stroke-width="0.35">96.000</text>
<text x="1346.4" y="622.3" font-family="'Liberation Sans', 'DejaVu Sans', sans-serif" font-size="25" font-weight="normal" fill="#131722" textLength="74.4" lengthAdjust="spacingAndGlyphs" stroke="#131722" stroke-width="0.35">95.000</text>
<rect x="1330.2" y="615" width="129" height="20" fill="#fff"/>
<line x1="13" y1="615.5" x2="1460.5" y2="615.5" stroke="#e0e3eb" stroke-width="1"/>
<path d="M1329.5,312.2 H1427 Q1430,312.2 1430,315.2 V343.2 Q1430,346.2 1427,346.2 H1329.5 Z" fill="#bf9000"/>
<text x="1345.4" y="337.8" font-family="'Liberation Sans', 'DejaVu Sans', sans-serif" font-size="24.6" font-weight="normal" fill="#ffffff" textLength="75.2" lengthAdjust="spacingAndGlyphs" stroke="#ffffff" stroke-width="0.35">98.412</text>
<path d="M1329.5,348.4 H1427 Q1430,348.4 1430,351.4 V379.4 Q1430,382.4 1427,382.4 H1329.5 Z" fill="#6aa84f"/>
<text x="1345.4" y="374.0" font-family="'Liberation Sans', 'DejaVu Sans', sans-serif" font-size="24.6" font-weight="normal" fill="#ffffff" textLength="75.2" lengthAdjust="spacingAndGlyphs" stroke="#ffffff" stroke-width="0.35">97.978</text>
<path d="M1329.5,405.3 H1427 Q1430,405.3 1430,408.3 V436.4 Q1430,439.4 1427,439.4 H1329.5 Z" fill="#393ea6"/>
<text x="1345.4" y="431.0" font-family="'Liberation Sans', 'DejaVu Sans', sans-serif" font-size="24.6" font-weight="normal" fill="#ffffff" textLength="75.2" lengthAdjust="spacingAndGlyphs" stroke="#ffffff" stroke-width="0.35">97.292</text>
<line x1="13" y1="795.5" x2="1460" y2="795.5" stroke="#50535e" stroke-width="1.2"/>
<g stroke="rgba(255,0,0,0.7)" stroke-width="1.9">
<line x1="13.00" y1="693.2" x2="13.00" y2="662.7"/>
<line x1="19.00" y1="693.2" x2="19.00" y2="663.6"/>
<line x1="25.00" y1="693.2" x2="25.00" y2="667.5"/>
<line x1="31.00" y1="693.2" x2="31.00" y2="680.2"/>
<line x1="37.00" y1="693.2" x2="37.00" y2="689.9"/>
<line x1="43.00" y1="693.2" x2="43.00" y2="702.6"/>
<line x1="49.00" y1="693.2" x2="49.00" y2="717.2"/>
<line x1="55.00" y1="693.2" x2="55.00" y2="727.5"/>
<line x1="61.00" y1="693.2" x2="61.00" y2="728.8"/>
<line x1="67.00" y1="693.2" x2="67.00" y2="725.5"/>
<line x1="74.00" y1="693.2" x2="74.00" y2="728.3"/>
<line x1="80.00" y1="693.2" x2="80.00" y2="731.8"/>
<line x1="86.00" y1="693.2" x2="86.00" y2="735.3"/>
<line x1="92.00" y1="693.2" x2="92.00" y2="736.6"/>
<line x1="98.00" y1="693.2" x2="98.00" y2="741.1"/>
<line x1="104.00" y1="693.2" x2="104.00" y2="741.1"/>
<line x1="110.00" y1="693.2" x2="110.00" y2="740.5"/>
<line x1="116.00" y1="693.2" x2="116.00" y2="740.1"/>
<line x1="122.00" y1="693.2" x2="122.00" y2="741.5"/>
<line x1="128.00" y1="693.2" x2="128.00" y2="749.3"/>
<line x1="134.00" y1="693.2" x2="134.00" y2="755.1"/>
<line x1="140.00" y1="693.2" x2="140.00" y2="760.6"/>
<line x1="146.00" y1="693.2" x2="146.00" y2="758.6"/>
<line x1="152.00" y1="693.2" x2="152.00" y2="755.1"/>
<line x1="159.00" y1="693.2" x2="159.00" y2="744.4"/>
<line x1="165.00" y1="693.2" x2="165.00" y2="740.5"/>
<line x1="171.00" y1="693.2" x2="171.00" y2="733.7"/>
<line x1="177.00" y1="693.2" x2="177.00" y2="736.6"/>
<line x1="183.00" y1="693.2" x2="183.00" y2="738.0"/>
<line x1="189.00" y1="693.2" x2="189.00" y2="746.3"/>
<line x1="195.00" y1="693.2" x2="195.00" y2="753.2"/>
<line x1="201.00" y1="693.2" x2="201.00" y2="762.9"/>
<line x1="207.00" y1="693.2" x2="207.00" y2="772.6"/>
<line x1="213.00" y1="693.2" x2="213.00" y2="778.5"/>
<line x1="219.00" y1="693.2" x2="219.00" y2="779.4"/>
<line x1="225.00" y1="693.2" x2="225.00" y2="779.4"/>
<line x1="231.00" y1="693.2" x2="231.00" y2="773.6"/>
<line x1="238.00" y1="693.2" x2="238.00" y2="764.8"/>
<line x1="244.00" y1="693.2" x2="244.00" y2="755.1"/>
<line x1="250.00" y1="693.2" x2="250.00" y2="744.4"/>
<line x1="256.00" y1="693.2" x2="256.00" y2="733.7"/>
<line x1="262.00" y1="693.2" x2="262.00" y2="722.0"/>
<line x1="268.00" y1="693.2" x2="268.00" y2="708.4"/>
<line x1="274.00" y1="693.2" x2="274.00" y2="693.8"/>
<line x1="280.00" y1="693.2" x2="280.00" y2="684.1"/>
<line x1="286.00" y1="693.2" x2="286.00" y2="676.9"/>
<line x1="292.00" y1="693.2" x2="292.00" y2="674.9"/>
<line x1="298.00" y1="693.2" x2="298.00" y2="678.2"/>
<line x1="304.00" y1="693.2" x2="304.00" y2="685.1"/>
<line x1="310.00" y1="693.2" x2="310.00" y2="692.8"/>
<line x1="316.00" y1="693.2" x2="316.00" y2="695.8"/>
<line x1="323.00" y1="693.2" x2="323.00" y2="692.8"/>
<line x1="329.00" y1="693.2" x2="329.00" y2="684.1"/>
<line x1="335.00" y1="693.2" x2="335.00" y2="669.5"/>
<line x1="341.00" y1="693.2" x2="341.00" y2="652.9"/>
<line x1="347.00" y1="693.2" x2="347.00" y2="643.2"/>
<line x1="353.00" y1="693.2" x2="353.00" y2="641.9"/>
<line x1="359.00" y1="693.2" x2="359.00" y2="641.3"/>
<line x1="365.00" y1="693.2" x2="365.00" y2="645.2"/>
<line x1="371.00" y1="693.2" x2="371.00" y2="655.9"/>
<line x1="377.00" y1="693.2" x2="377.00" y2="666.6"/>
<line x1="383.00" y1="693.2" x2="383.00" y2="674.4"/>
<line x1="389.00" y1="693.2" x2="389.00" y2="683.1"/>
<line x1="395.00" y1="693.2" x2="395.00" y2="693.8"/>
<line x1="402.00" y1="693.2" x2="402.00" y2="700.6"/>
<line x1="408.00" y1="693.2" x2="408.00" y2="706.5"/>
<line x1="414.00" y1="693.2" x2="414.00" y2="711.3"/>
<line x1="420.00" y1="693.2" x2="420.00" y2="713.3"/>
<line x1="426.00" y1="693.2" x2="426.00" y2="711.3"/>
<line x1="432.00" y1="693.2" x2="432.00" y2="709.4"/>
<line x1="438.00" y1="693.2" x2="438.00" y2="709.4"/>
<line x1="444.00" y1="693.2" x2="444.00" y2="708.4"/>
<line x1="450.00" y1="693.2" x2="450.00" y2="706.1"/>
<line x1="456.00" y1="693.2" x2="456.00" y2="703.5"/>
<line x1="462.00" y1="693.2" x2="462.00" y2="704.9"/>
<line x1="468.00" y1="693.2" x2="468.00" y2="708.0"/>
<line x1="474.00" y1="693.2" x2="474.00" y2="713.3"/>
<line x1="480.00" y1="693.2" x2="480.00" y2="712.7"/>
<line x1="487.00" y1="693.2" x2="487.00" y2="710.3"/>
<line x1="493.00" y1="693.2" x2="493.00" y2="709.4"/>
<line x1="499.00" y1="693.2" x2="499.00" y2="711.3"/>
<line x1="505.00" y1="693.2" x2="505.00" y2="715.8"/>
<line x1="511.00" y1="693.2" x2="511.00" y2="720.5"/>
<line x1="517.00" y1="693.2" x2="517.00" y2="721.1"/>
<line x1="523.00" y1="693.2" x2="523.00" y2="721.1"/>
<line x1="529.00" y1="693.2" x2="529.00" y2="723.0"/>
<line x1="535.00" y1="693.2" x2="535.00" y2="724.9"/>
<line x1="541.00" y1="693.2" x2="541.00" y2="731.8"/>
<line x1="547.00" y1="693.2" x2="547.00" y2="740.5"/>
<line x1="553.00" y1="693.2" x2="553.00" y2="739.5"/>
<line x1="559.00" y1="693.2" x2="559.00" y2="731.8"/>
<line x1="565.00" y1="693.2" x2="565.00" y2="727.9"/>
<line x1="572.00" y1="693.2" x2="572.00" y2="725.9"/>
<line x1="578.00" y1="693.2" x2="578.00" y2="721.1"/>
<line x1="584.00" y1="693.2" x2="584.00" y2="708.4"/>
<line x1="590.00" y1="693.2" x2="590.00" y2="695.8"/>
<line x1="596.00" y1="693.2" x2="596.00" y2="689.9"/>
<line x1="602.00" y1="693.2" x2="602.00" y2="686.0"/>
<line x1="608.00" y1="693.2" x2="608.00" y2="685.4"/>
<line x1="614.00" y1="693.2" x2="614.00" y2="684.1"/>
<line x1="620.00" y1="693.2" x2="620.00" y2="684.1"/>
<line x1="626.00" y1="693.2" x2="626.00" y2="680.2"/>
<line x1="632.00" y1="693.2" x2="632.00" y2="674.4"/>
<line x1="638.00" y1="693.2" x2="638.00" y2="664.6"/>
<line x1="644.00" y1="693.2" x2="644.00" y2="654.9"/>
<line x1="651.00" y1="693.2" x2="651.00" y2="647.1"/>
<line x1="657.00" y1="693.2" x2="657.00" y2="641.3"/>
<line x1="663.00" y1="693.2" x2="663.00" y2="634.5"/>
<line x1="669.00" y1="693.2" x2="669.00" y2="634.1"/>
<line x1="675.00" y1="693.2" x2="675.00" y2="640.3"/>
<line x1="681.00" y1="693.2" x2="681.00" y2="648.1"/>
<line x1="687.00" y1="693.2" x2="687.00" y2="652.9"/>
<line x1="693.00" y1="693.2" x2="693.00" y2="655.5"/>
<line x1="699.00" y1="693.2" x2="699.00" y2="656.3"/>
<line x1="705.00" y1="693.2" x2="705.00" y2="657.4"/>
<line x1="711.00" y1="693.2" x2="711.00" y2="658.8"/>
<line x1="717.00" y1="693.2" x2="717.00" y2="660.7"/>
<line x1="723.00" y1="693.2" x2="723.00" y2="663.3"/>
<line x1="729.00" y1="693.2" x2="729.00" y2="662.7"/>
<line x1="736.00" y1="693.2" x2="736.00" y2="659.8"/>
<line x1="742.00" y1="693.2" x2="742.00" y2="653.9"/>
<line x1="748.00" y1="693.2" x2="748.00" y2="647.7"/>
<line x1="754.00" y1="693.2" x2="754.00" y2="642.2"/>
<line x1="760.00" y1="693.2" x2="760.00" y2="635.4"/>
<line x1="766.00" y1="693.2" x2="766.00" y2="633.5"/>
<line x1="772.00" y1="693.2" x2="772.00" y2="636.4"/>
<line x1="778.00" y1="693.2" x2="778.00" y2="641.3"/>
<line x1="784.00" y1="693.2" x2="784.00" y2="646.1"/>
<line x1="790.00" y1="693.2" x2="790.00" y2="652.0"/>
<line x1="796.00" y1="693.2" x2="796.00" y2="660.7"/>
<line x1="802.00" y1="693.2" x2="802.00" y2="668.5"/>
<line x1="808.00" y1="693.2" x2="808.00" y2="673.8"/>
<line x1="815.00" y1="693.2" x2="815.00" y2="676.3"/>
<line x1="821.00" y1="693.2" x2="821.00" y2="674.4"/>
<line x1="827.00" y1="693.2" x2="827.00" y2="670.5"/>
<line x1="833.00" y1="693.2" x2="833.00" y2="666.0"/>
<line x1="839.00" y1="693.2" x2="839.00" y2="662.1"/>
<line x1="845.00" y1="693.2" x2="845.00" y2="661.7"/>
<line x1="851.00" y1="693.2" x2="851.00" y2="663.6"/>
<line x1="857.00" y1="693.2" x2="857.00" y2="669.5"/>
<line x1="863.00" y1="693.2" x2="863.00" y2="674.4"/>
<line x1="869.00" y1="693.2" x2="869.00" y2="682.1"/>
<line x1="875.00" y1="693.2" x2="875.00" y2="688.0"/>
<line x1="881.00" y1="693.2" x2="881.00" y2="695.8"/>
<line x1="887.00" y1="693.2" x2="887.00" y2="705.5"/>
<line x1="893.00" y1="693.2" x2="893.00" y2="712.7"/>
<line x1="900.00" y1="693.2" x2="900.00" y2="718.1"/>
<line x1="906.00" y1="693.2" x2="906.00" y2="719.1"/>
<line x1="912.00" y1="693.2" x2="912.00" y2="722.0"/>
<line x1="918.00" y1="693.2" x2="918.00" y2="727.9"/>
<line x1="924.00" y1="693.2" x2="924.00" y2="733.3"/>
<line x1="930.00" y1="693.2" x2="930.00" y2="738.0"/>
<line x1="936.00" y1="693.2" x2="936.00" y2="743.8"/>
<line x1="942.00" y1="693.2" x2="942.00" y2="743.8"/>
<line x1="948.00" y1="693.2" x2="948.00" y2="743.4"/>
<line x1="954.00" y1="693.2" x2="954.00" y2="739.5"/>
<line x1="960.00" y1="693.2" x2="960.00" y2="738.6"/>
<line x1="966.00" y1="693.2" x2="966.00" y2="740.5"/>
<line x1="972.00" y1="693.2" x2="972.00" y2="743.0"/>
<line x1="979.00" y1="693.2" x2="979.00" y2="743.0"/>
<line x1="985.00" y1="693.2" x2="985.00" y2="741.5"/>
<line x1="991.00" y1="693.2" x2="991.00" y2="739.5"/>
<line x1="997.00" y1="693.2" x2="997.00" y2="734.1"/>
<line x1="1003.00" y1="693.2" x2="1003.00" y2="730.2"/>
<line x1="1009.00" y1="693.2" x2="1009.00" y2="724.0"/>
<line x1="1015.00" y1="693.2" x2="1015.00" y2="720.1"/>
<line x1="1021.00" y1="693.2" x2="1021.00" y2="714.2"/>
<line x1="1027.00" y1="693.2" x2="1027.00" y2="701.6"/>
<line x1="1033.00" y1="693.2" x2="1033.00" y2="690.9"/>
<line x1="1039.00" y1="693.2" x2="1039.00" y2="684.1"/>
<line x1="1045.00" y1="693.2" x2="1045.00" y2="679.2"/>
<line x1="1051.00" y1="693.2" x2="1051.00" y2="674.4"/>
<line x1="1057.00" y1="693.2" x2="1057.00" y2="667.5"/>
<line x1="1064.00" y1="693.2" x2="1064.00" y2="661.7"/>
<line x1="1070.00" y1="693.2" x2="1070.00" y2="659.4"/>
<line x1="1076.00" y1="693.2" x2="1076.00" y2="665.2"/>
<line x1="1082.00" y1="693.2" x2="1082.00" y2="671.4"/>
<line x1="1088.00" y1="693.2" x2="1088.00" y2="678.2"/>
<line x1="1094.00" y1="693.2" x2="1094.00" y2="689.9"/>
<line x1="1100.00" y1="693.2" x2="1100.00" y2="704.5"/>
<line x1="1106.00" y1="693.2" x2="1106.00" y2="729.8"/>
<line x1="1112.00" y1="693.2" x2="1112.00" y2="751.2"/>
<line x1="1118.00" y1="693.2" x2="1118.00" y2="765.8"/>
<line x1="1124.00" y1="693.2" x2="1124.00" y2="773.0"/>
<line x1="1130.00" y1="693.2" x2="1130.00" y2="769.3"/>
<line x1="1136.00" y1="693.2" x2="1136.00" y2="760.6"/>
<line x1="1142.00" y1="693.2" x2="1142.00" y2="752.2"/>
<line x1="1149.00" y1="693.2" x2="1149.00" y2="740.5"/>
<line x1="1155.00" y1="693.2" x2="1155.00" y2="729.8"/>
<line x1="1161.00" y1="693.2" x2="1161.00" y2="724.0"/>
<line x1="1167.00" y1="693.2" x2="1167.00" y2="723.6"/>
<line x1="1173.00" y1="693.2" x2="1173.00" y2="723.6"/>
<line x1="1179.00" y1="693.2" x2="1179.00" y2="723.0"/>
<line x1="1185.00" y1="693.2" x2="1185.00" y2="723.0"/>
<line x1="1191.00" y1="693.2" x2="1191.00" y2="724.0"/>
<line x1="1197.00" y1="693.2" x2="1197.00" y2="721.1"/>
<line x1="1203.00" y1="693.2" x2="1203.00" y2="715.2"/>
<line x1="1209.00" y1="693.2" x2="1209.00" y2="704.5"/>
<line x1="1215.00" y1="693.2" x2="1215.00" y2="692.8"/>
</g>
<line x1="13" y1="693.5" x2="1328.5" y2="693.5" stroke="#ff0000" stroke-width="1.5" stroke-dasharray="1.5 1.5"/>
<polyline points="13.0,662.7 19.0,663.6 25.0,667.5 31.0,680.2 37.0,689.9 43.0,702.6 49.0,717.2 55.0,727.5 61.0,728.8 67.0,725.5 74.0,728.3 80.0,731.8 86.0,735.3 92.0,736.6 98.0,741.1 104.0,741.1 110.0,740.5 116.0,740.1 122.0,741.5 128.0,749.3 134.0,755.1 140.0,760.6 146.0,758.6 152.0,755.1 159.0,744.4 165.0,740.5 171.0,733.7 177.0,736.6 183.0,738.0 189.0,746.3 195.0,753.2 201.0,762.9 207.0,772.6 213.0,778.5 219.0,779.4 225.0,779.4 231.0,773.6 238.0,764.8 244.0,755.1 250.0,744.4 256.0,733.7 262.0,722.0 268.0,708.4 274.0,693.8 280.0,684.1 286.0,676.9 292.0,674.9 298.0,678.2 304.0,685.1 310.0,692.8 316.0,695.8 323.0,692.8 329.0,684.1 335.0,669.5 341.0,652.9 347.0,643.2 353.0,641.9 359.0,641.3 365.0,645.2 371.0,655.9 377.0,666.6 383.0,674.4 389.0,683.1 395.0,693.8 402.0,700.6 408.0,706.5 414.0,711.3 420.0,713.3 426.0,711.3 432.0,709.4 438.0,709.4 444.0,708.4 450.0,706.1 456.0,703.5 462.0,704.9 468.0,708.0 474.0,713.3 480.0,712.7 487.0,710.3 493.0,709.4 499.0,711.3 505.0,715.8 511.0,720.5 517.0,721.1 523.0,721.1 529.0,723.0 535.0,724.9 541.0,731.8 547.0,740.5 553.0,739.5 559.0,731.8 565.0,727.9 572.0,725.9 578.0,721.1 584.0,708.4 590.0,695.8 596.0,689.9 602.0,686.0 608.0,685.4 614.0,684.1 620.0,684.1 626.0,680.2 632.0,674.4 638.0,664.6 644.0,654.9 651.0,647.1 657.0,641.3 663.0,634.5 669.0,634.1 675.0,640.3 681.0,648.1 687.0,652.9 693.0,655.5 699.0,656.3 705.0,657.4 711.0,658.8 717.0,660.7 723.0,663.3 729.0,662.7 736.0,659.8 742.0,653.9 748.0,647.7 754.0,642.2 760.0,635.4 766.0,633.5 772.0,636.4 778.0,641.3 784.0,646.1 790.0,652.0 796.0,660.7 802.0,668.5 808.0,673.8 815.0,676.3 821.0,674.4 827.0,670.5 833.0,666.0 839.0,662.1 845.0,661.7 851.0,663.6 857.0,669.5 863.0,674.4 869.0,682.1 875.0,688.0 881.0,695.8 887.0,705.5 893.0,712.7 900.0,718.1 906.0,719.1 912.0,722.0 918.0,727.9 924.0,733.3 930.0,738.0 936.0,743.8 942.0,743.8 948.0,743.4 954.0,739.5 960.0,738.6 966.0,740.5 972.0,743.0 979.0,743.0 985.0,741.5 991.0,739.5 997.0,734.1 1003.0,730.2 1009.0,724.0 1015.0,720.1 1021.0,714.2 1027.0,701.6 1033.0,690.9 1039.0,684.1 1045.0,679.2 1051.0,674.4 1057.0,667.5 1064.0,661.7 1070.0,659.4 1076.0,665.2 1082.0,671.4 1088.0,678.2 1094.0,689.9 1100.0,704.5 1106.0,729.8 1112.0,751.2 1118.0,765.8 1124.0,773.0 1130.0,769.3 1136.0,760.6 1142.0,752.2 1149.0,740.5 1155.0,729.8 1161.0,724.0 1167.0,723.6 1173.0,723.6 1179.0,723.0 1185.0,723.0 1191.0,724.0 1197.0,721.1 1203.0,715.2 1209.0,704.5 1215.0,692.8" fill="none" stroke="rgba(255,0,0,0.7)" stroke-width="2.4" stroke-linejoin="round" stroke-linecap="round" />
<polyline points="13.5,673.0 19.5,667.9 24.6,666.0 29.5,669.1 37.2,677.3 44.1,688.0 49.9,700.6 55.9,712.3 62.2,721.1 68.2,724.9 80.2,730.2 92.5,734.3 104.6,739.1 116.6,740.1 122.9,741.1 128.9,744.4 134.9,748.9 141.0,753.5 147.0,756.7 153.2,755.5 159.3,751.2 165.3,746.9 171.3,741.5 177.3,738.0 183.6,738.6 189.6,741.5 195.6,746.3 201.7,755.1 207.7,763.9 213.9,770.7 220.0,775.0 226.0,777.1 232.0,776.5 238.1,773.0 244.3,766.4 250.3,757.1 256.4,747.3 262.4,737.2 268.4,726.3 274.6,714.6 280.7,703.5 286.6,690.9 286.7,689.9 292.6,682.1 298.7,679.2 304.7,680.2 310.9,684.7 317.0,688.6 323.0,691.5 329.0,688.6 335.1,679.2 341.3,667.5 347.3,656.8 353.4,650.0 359.4,645.2 365.4,643.8 371.7,647.1 377.7,654.9 383.7,662.7 389.7,671.4 395.8,681.2 402.0,690.9 408.0,699.6 414.1,706.1 420.1,710.0 426.1,711.3 432.4,710.7 438.4,710.0 444.4,709.4 450.5,708.0 456.5,706.1 462.7,705.5 468.8,706.8 474.8,708.8 480.8,710.3 486.8,710.3 493.1,710.0 499.1,710.7 505.1,713.3 511.2,716.2 517.4,718.5 523.4,720.1 529.5,721.4 535.5,723.0 541.5,726.9 547.8,731.8 553.8,735.6 557.8,736.0 566.0,733.7 572.0,731.4 578.2,727.5 584.2,721.6 590.3,713.9 596.3,703.5 602.5,694.4 608.6,689.3 614.6,686.6 620.6,684.7 626.7,682.7 632.7,679.2 638.9,672.4 645.0,664.6 651.0,656.8 657.0,650.0 663.1,643.2 669.1,638.7 675.1,638.0 681.3,640.3 687.4,644.6 693.4,649.1 699.4,652.6 705.5,654.9 711.5,656.8 717.7,658.8 723.8,660.7 729.8,661.7 735.8,660.7 741.9,658.2 747.9,653.9 754.1,648.5 760.2,642.2 766.2,638.0 772.2,636.8 778.3,638.0 784.3,640.7 790.5,645.2 796.5,652.0 802.6,659.8 808.6,666.6 814.6,671.4 820.0,673.4 820.7,673.4 827.0,673.0 833.0,670.5 839.1,667.2 845.1,664.6 851.3,663.6 857.4,665.2 863.4,667.9 869.4,672.4 875.5,678.2 881.5,685.1 887.5,692.8 893.6,701.6 899.8,710.0 905.8,714.6 911.8,718.1 917.9,722.0 923.9,726.3 929.9,731.8 936.0,737.6 942.2,741.9 948.2,743.0 954.3,742.5 960.3,741.5 966.3,741.1 972.4,741.9 978.4,742.5 984.6,742.5 990.7,741.5 996.7,739.1 1002.7,735.6 1008.8,731.4 1014.8,726.3 1021.0,721.1 1027.0,713.3 1033.1,704.9 1039.1,696.7 1045.1,689.9 1051.2,683.1 1057.2,676.9 1063.9,668.5 1069.9,664.6 1076.0,664.6 1082.2,666.6 1088.2,670.5 1094.2,677.3 1100.3,688.0 1106.3,702.6 1112.5,724.0 1118.6,743.4 1124.6,758.0 1130.6,764.4 1136.7,764.8 1142.7,761.9 1148.9,755.1 1155.0,746.3 1161.0,736.6 1167.0,730.2 1173.1,726.3 1179.1,724.4 1185.1,723.6 1191.3,723.4 1197.4,722.0 1203.4,718.5 1209.4,712.3 1215.5,706.1" fill="none" stroke="rgba(0,0,255,0.68)" stroke-width="2.6" stroke-linejoin="round" stroke-linecap="round" />
<text x="40.2" y="645.7" font-family="'Liberation Sans', 'DejaVu Sans', sans-serif" font-size="19.5" font-weight="bold" fill="#131722" textLength="159.5" lengthAdjust="spacingAndGlyphs" >Tension Indicator</text>
<text x="60.7" y="827.7" font-family="'Liberation Sans', 'DejaVu Sans', sans-serif" font-size="23.8" font-weight="normal" fill="#131722" textLength="37.6" lengthAdjust="spacingAndGlyphs" >Jun</text>
<text x="191.4" y="827.7" font-family="'Liberation Sans', 'DejaVu Sans', sans-serif" font-size="23.8" font-weight="normal" fill="#131722" textLength="30.9" lengthAdjust="spacingAndGlyphs" >Jul</text>
<text x="326.6" y="827.7" font-family="'Liberation Sans', 'DejaVu Sans', sans-serif" font-size="23.8" font-weight="normal" fill="#131722" textLength="40.7" lengthAdjust="spacingAndGlyphs" >Aug</text>
<text x="455.2" y="827.7" font-family="'Liberation Sans', 'DejaVu Sans', sans-serif" font-size="23.8" font-weight="normal" fill="#131722" textLength="38.1" lengthAdjust="spacingAndGlyphs" >Sep</text>
<text x="588.8" y="827.7" font-family="'Liberation Sans', 'DejaVu Sans', sans-serif" font-size="23.8" font-weight="normal" fill="#131722" textLength="37.5" lengthAdjust="spacingAndGlyphs" >Oct</text>
<text x="727.7" y="827.7" font-family="'Liberation Sans', 'DejaVu Sans', sans-serif" font-size="23.8" font-weight="normal" fill="#131722" textLength="40.7" lengthAdjust="spacingAndGlyphs" >Nov</text>
<text x="849.4" y="827.7" font-family="'Liberation Sans', 'DejaVu Sans', sans-serif" font-size="23.8" font-weight="normal" fill="#131722" textLength="39.9" lengthAdjust="spacingAndGlyphs" >Dec</text>
<text x="974.7" y="827.7" font-family="'Liberation Sans', 'DejaVu Sans', sans-serif" font-size="23.8" font-weight="bold" fill="#131722" textLength="57.1" lengthAdjust="spacingAndGlyphs" >2026</text>
<text x="1110.3" y="827.7" font-family="'Liberation Sans', 'DejaVu Sans', sans-serif" font-size="23.8" font-weight="normal" fill="#131722" textLength="39.7" lengthAdjust="spacingAndGlyphs" >Feb</text>
<text x="1231.2" y="827.7" font-family="'Liberation Sans', 'DejaVu Sans', sans-serif" font-size="23.8" font-weight="normal" fill="#131722" textLength="40.7" lengthAdjust="spacingAndGlyphs" >Mar</text>
<text x="13.3" y="24.6" font-family="'DejaVu Sans', 'Liberation Sans', sans-serif" font-size="14.4" font-weight="normal" fill="#131722" textLength="526.2" lengthAdjust="spacingAndGlyphs" >Continuum_Economics created with TradingView.com, Feb 20, 2026 09:03 UTC</text>
<g fill="#131722"><path d="M15.5,877.5 H30.4 V895.8 H23 V884.7 H15.5 Z"/><circle cx="36.7" cy="881.2" r="3.7"/><path d="M44.4,877.5 H52.5 L45.6,895.8 H37.1 Z"/></g>
<text x="62.0" y="896.2" font-family="'Liberation Sans', 'DejaVu Sans', sans-serif" font-size="26" font-weight="bold" fill="#131722" textLength="150.7" lengthAdjust="spacingAndGlyphs" >TradingView</text></svg>
</body></html>
